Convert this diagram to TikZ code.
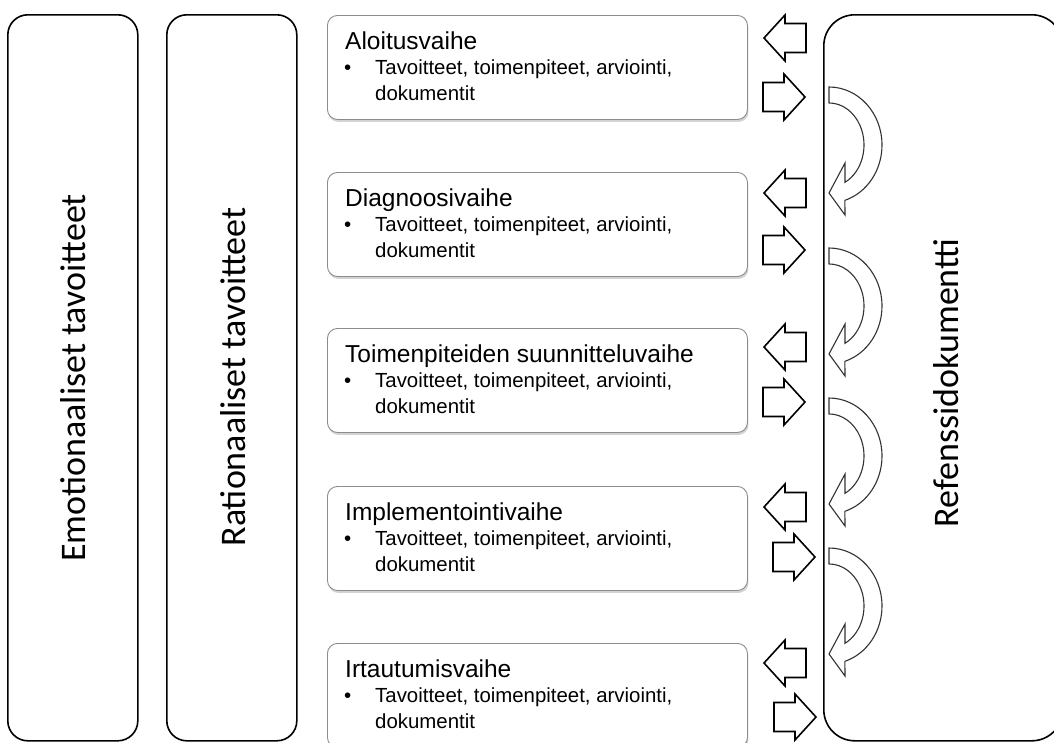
\documentclass[tikz,border=0pt]{standalone}
\usepackage{fontspec}
\setmainfont{Liberation Sans}
\newfontfamily\labelfont{Carlito}
\usetikzlibrary{shadows}

\begin{document}
\begin{tikzpicture}[x=1pt,y=-1pt,
  bigbox/.style={draw=black, line width=1.6pt, fill=white, anchor=north west, inner sep=0pt},
  stagebox/.style={draw=black!45, line width=0.9pt, fill=white, rounded corners=10pt,
    anchor=north west, inner sep=0pt, minimum width=420pt, minimum height=104pt,
    drop shadow={shadow xshift=1pt, shadow yshift=-2.5pt, opacity=0.35}},
  sidelabel/.style={font=\labelfont\fontsize{36}{43}\selectfont, rotate=90, anchor=base, inner sep=0pt},
  stagetitle/.style={font=\fontsize{24.5}{29}\selectfont, anchor=base west, inner sep=0pt},
  stagetext/.style={font=\fontsize{20.4}{25}\selectfont, anchor=base west, inner sep=0pt},
  blockarrow/.style={draw=black, line width=1.6pt, line join=miter, fill=white},
  bentarrow/.style={draw=black!80, line width=1.1pt, fill=white},
  % block arrow pointing left, tip at the pic origin
  larr/.pic={\draw[blockarrow] (0,0) -- (21,-23) -- (21,-14.5) -- (42,-14.5)
     -- (42,14.5) -- (21,14.5) -- (21,23) -- cycle;},
  % block arrow pointing right, tip at the pic origin
  rarr/.pic={\draw[blockarrow] (0,0) -- (-21,-23) -- (-21,-14.5) -- (-42,-14.5)
     -- (-42,14.5) -- (-21,14.5) -- (-21,23) -- cycle;},
  % curved arrow bending round to the next stage, origin at its upper end
  bent/.pic={\draw[bentarrow] (0,0)
     arc[start angle=-90, end angle=72.56, x radius=53, y radius=58]
     -- (16,128) -- (0,106) -- (16,76) -- (16,95.3)
     arc[start angle=62.8, end angle=-90, x radius=35, y radius=42]
     -- cycle;}
]
\useasboundingbox (0,0) rectangle (1054,742);
\clip (0,0) rectangle (1054,742);

% three tall columns
\node[bigbox, rounded corners=20pt, minimum width=130pt, minimum height=726pt] (emotional) at (7,14) {};
\node[bigbox, rounded corners=20pt, minimum width=130pt, minimum height=726pt] (rational) at (166,14) {};
\node[bigbox, rounded corners=31pt, minimum width=239pt, minimum height=726pt] (reference) at (823,14) {};

\node[sidelabel] (emolabel) at (85,378) {Emotionaaliset tavoitteet};
\node[sidelabel] (ratlabel) at (245,377) {Rationaaliset tavoitteet};
\node[sidelabel] (reflabel) at (958,383) {Refenssidokumentti};

% the five stages
\foreach \top/\title [count=\n] in {15/Aloitusvaihe, 172/Diagnoosivaihe,
    328/Toimenpiteiden suunnitteluvaihe, 486/Implementointivaihe, 643/Irtautumisvaihe} {
  \node[stagebox] (stage\n) at (327,\top) {};
  \node[stagetitle] (title\n) at (345,\top+34) {\title};
  \node[stagetext] (bullet\n) at (344,\top+59) {•};
  \node[stagetext] (goals\n) at (375,\top+59) {Tavoitteet, toimenpiteet, arviointi,};
  \node[stagetext] (docs\n) at (375,\top+85) {dokumentit};
}

% exchange with the reference document
\foreach \y in {38,193,347,507,663} \pic at (764,\y) {larr};
\pic at (805,97) {rarr};
\pic at (805,250) {rarr};
\pic at (805,402) {rarr};
\pic at (815,557) {rarr};
\pic at (816,717) {rarr};

% flow from stage to stage inside the reference document
\foreach \y in {87,248,398,548} \pic at (829,\y) {bent};
\end{tikzpicture}
\end{document}
